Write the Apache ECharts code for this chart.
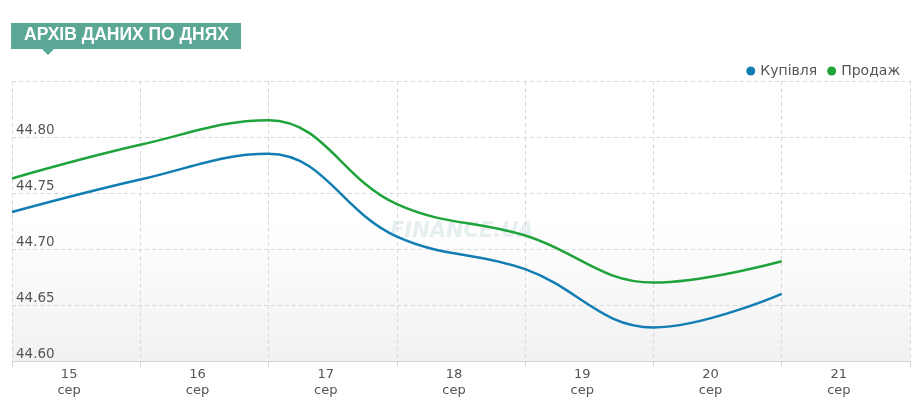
<!DOCTYPE html>
<html lang="uk">
<head>
    <meta charset="UTF-8">
    <title>Архів даних по днях</title>
    <script src="https://cdn.jsdelivr.net/npm/echarts@6/dist/echarts.min.js"></script>
    <style>
        html, body { margin: 0; padding: 0; background: #ffffff; }
        #chart { width: 922px; height: 402px; }
    </style>
</head>
<body>
<div id="chart"></div>
<script>
    // дані
    var days = ['15', '16', '17', '18', '19', '20', '21'];
    var month = 'сер';
    var dayIndex = [0, 1, 2, 3, 4, 5, 6];
    var buyValues = [44.733, 44.762, 44.785, 44.711, 44.682, 44.630, 44.660];
    var sellValues = [44.763, 44.793, 44.815, 44.740, 44.712, 44.670, 44.689];
    var yTicks = [44.60, 44.65, 44.70, 44.75, 44.80, 44.85];

    function pairs(vals) {
        var out = [];
        for (var i = 0; i < vals.length; i++) {
            out.push([dayIndex[i], vals[i]]);
        }
        return out;
    }

    var dashed = { show: true, lineStyle: { color: '#d9d9d9', type: [4, 3], width: 1 } };

    var option = {
        animation: false,
        textStyle: { fontFamily: 'Verdana, "DejaVu Sans", sans-serif' },
        color: ['#117db3', '#1fa33b'],
        graphic: [
            { type: 'rect', shape: { x: 11, y: 23, width: 230, height: 26 }, style: { fill: '#5ba796' } },
            { type: 'polygon', shape: { points: [[42, 49], [54, 49], [48, 55]] }, style: { fill: '#5ba796' } },
            {
                type: 'text', left: 24, top: 26,
                style: { text: 'АРХІВ ДАНИХ ПО ДНЯХ', fill: '#ffffff', font: 'bold 17.5px "Liberation Sans", Arial, sans-serif' }
            },
            {
                type: 'text', left: 390, top: 221, z: 0,
                style: { text: 'FINANCE.UA', fill: 'rgba(175,205,205,0.3)', font: 'italic bold 21px "DejaVu Sans", sans-serif' }
            }
        ],
        legend: {
            right: 17, top: 59,
            icon: 'circle', itemWidth: 9, itemHeight: 9, itemGap: 10,
            textStyle: { color: '#555', fontSize: 14, fontFamily: '"DejaVu Sans", sans-serif' },
            data: ['Купівля', 'Продаж']
        },
        grid: {
            left: 12, right: 12, top: 81, bottom: 41,
            show: true, borderWidth: 0,
            backgroundColor: {
                type: 'linear', x: 0, y: 0, x2: 0, y2: 1,
                colorStops: [
                    { offset: 0, color: '#ffffff' },
                    { offset: 0.5, color: '#ffffff' },
                    { offset: 1, color: '#f1f1f1' }
                ]
            }
        },
        xAxis: [
            {
                type: 'value', min: 0, max: 7, interval: 1,
                axisLine: { show: true, lineStyle: { color: '#d5d5d5', width: 1 } },
                axisTick: { show: true, length: 6, lineStyle: { color: '#d5d5d5' } },
                axisLabel: { show: false },
                splitLine: dashed
            },
            {
                type: 'category', position: 'bottom', boundaryGap: true,
                data: days.map(function (d) { return d + '\n' + month; }),
                axisLine: { show: false },
                axisTick: { show: false },
                splitLine: { show: false },
                axisLabel: {
                    color: '#555', fontSize: 13, lineHeight: 16, margin: 6,
                    padding: [0, 14, 0, 0],
                    fontFamily: 'Verdana, "DejaVu Sans", sans-serif'
                }
            }
        ],
        yAxis: {
            type: 'value',
            min: yTicks[0], max: yTicks[yTicks.length - 1], interval: 0.05,
            axisLine: { show: false },
            axisTick: { show: false },
            splitLine: dashed,
            axisLabel: {
                inside: true, margin: 4, verticalAlign: 'bottom',
                color: '#555', fontSize: 13.5,
                fontFamily: 'Verdana, "DejaVu Sans", sans-serif',
                formatter: function (v) {
                    if (Math.abs(v - yTicks[yTicks.length - 1]) < 1e-6) return '';
                    return v.toFixed(2);
                }
            }
        },
        series: [
            {
                name: 'Купівля', type: 'line', xAxisIndex: 0,
                data: pairs(buyValues), smooth: 0.4, showSymbol: false,
                lineStyle: { width: 2.5, color: '#117db3' }, z: 3
            },
            {
                name: 'Продаж', type: 'line', xAxisIndex: 0,
                data: pairs(sellValues), smooth: 0.4, showSymbol: false,
                lineStyle: { width: 2.5, color: '#1fa33b' }, z: 3
            }
        ]
    };

    var chart = echarts.init(document.getElementById('chart'));
    chart.setOption(option);
</script>
</body>
</html>
